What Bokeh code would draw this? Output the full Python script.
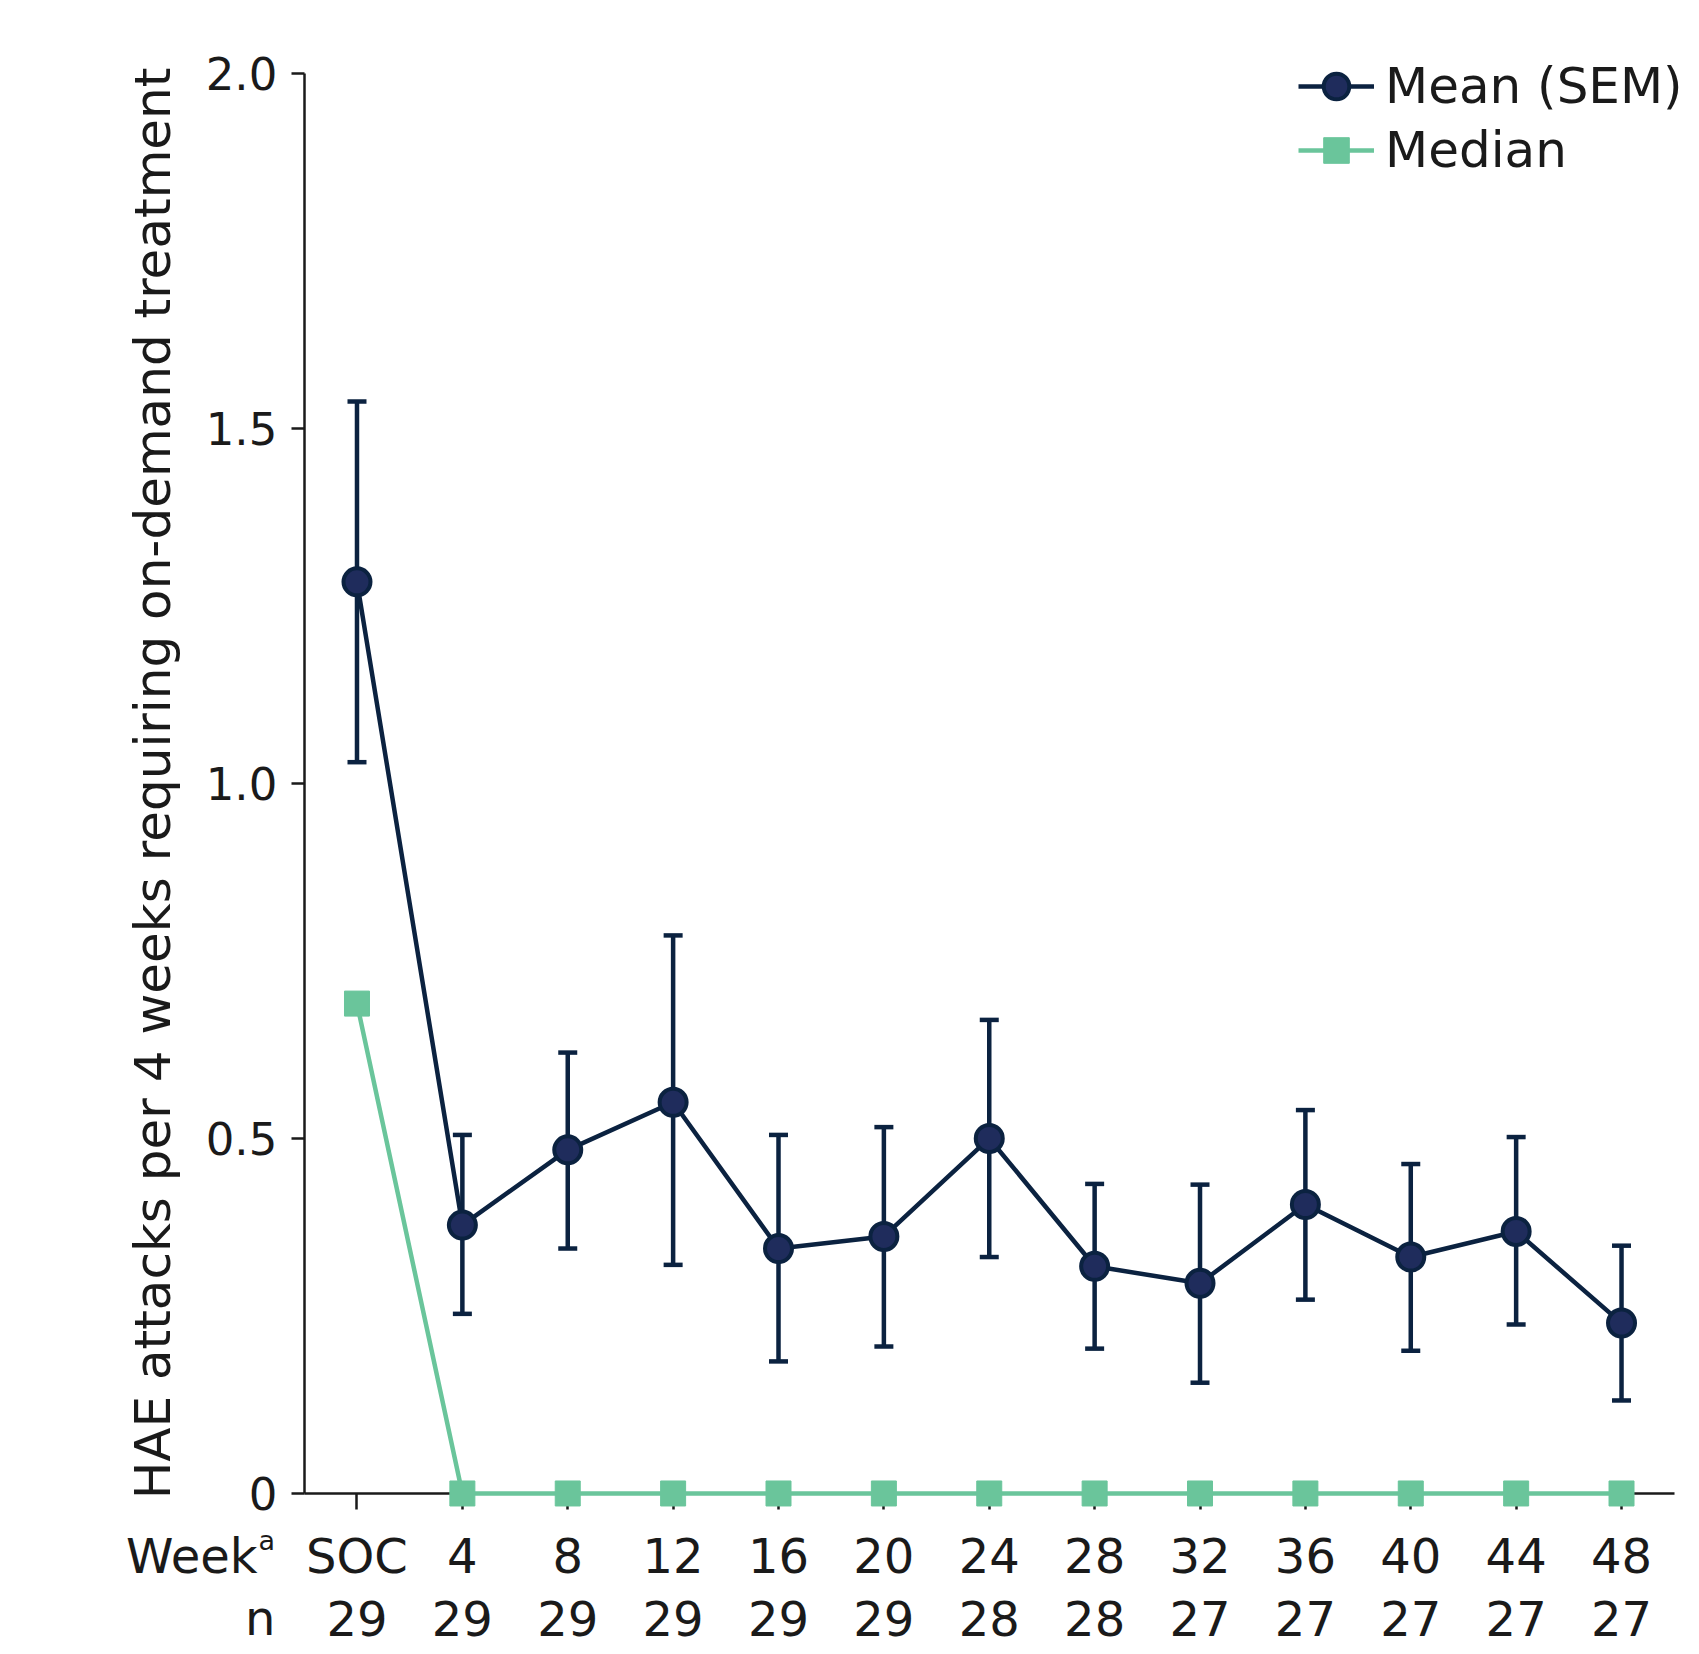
from bokeh.plotting import figure
from bokeh.models import (ColumnDataSource, Range1d, FixedTicker, LinearAxis, Whisker,
                          TeeHead, Legend, LegendItem, Label)
from bokeh.embed import file_html
from bokeh.resources import INLINE

# ---- data ----
weeks = ["SOC", "4", "8", "12", "16", "20", "24", "28", "32", "36", "40", "44", "48"]
n_values = ["29", "29", "29", "29", "29", "29", "28", "28", "27", "27", "27", "27", "27"]
mean_values = [1.284, 0.378, 0.484, 0.551, 0.345, 0.362, 0.500, 0.320, 0.296, 0.407, 0.333, 0.369, 0.240]
sem_upper = [1.538, 0.505, 0.621, 0.786, 0.505, 0.516, 0.667, 0.436, 0.435, 0.540, 0.464, 0.502, 0.349]
sem_lower = [1.030, 0.253, 0.345, 0.322, 0.186, 0.207, 0.333, 0.204, 0.156, 0.273, 0.201, 0.238, 0.131]
median_values = [0.69, 0, 0, 0, 0, 0, 0, 0, 0, 0, 0, 0, 0]
y_ticks = [0, 0.5, 1.0, 1.5, 2.0]
y_tick_labels = ["0", "0.5", "1.0", "1.5", "2.0"]
y_label = "HAE attacks per 4 weeks requiring on-demand treatment"

NAVY = "#0b2240"
NAVY_FILL = "#1f2c5c"
GREEN = "#6ac59b"
INK = "#1a1a1a"
FONT = "DejaVu Sans"

xs = list(range(len(weeks)))
src = ColumnDataSource(dict(x=xs, mean=mean_values, upper=sem_upper, lower=sem_lower,
                            median=median_values))

W, H = 1699, 1654
p = figure(width=W, height=H, output_backend="svg", toolbar_location=None,
           x_range=Range1d(-3.383, 12.740), y_range=Range1d(-0.2268, 2.1028),
           min_border=0, min_border_left=0, min_border_right=0,
           min_border_top=0, min_border_bottom=0)
p.outline_line_color = None
p.xgrid.visible = False
p.ygrid.visible = False
p.background_fill_color = "white"
p.border_fill_color = "white"

# error bars
wh = Whisker(source=src, base="x", upper="upper", lower="lower", dimension="height",
             line_color=NAVY, line_width=4.5, level="underlay",
             upper_head=TeeHead(size=19, line_color=NAVY, line_width=4.5),
             lower_head=TeeHead(size=19, line_color=NAVY, line_width=4.5))
p.add_layout(wh)

mean_line = p.line("x", "mean", source=src, line_color=NAVY, line_width=4.5)
mean_pts = p.scatter("x", "mean", source=src, marker="circle", size=27,
                     fill_color=NAVY_FILL, line_color=NAVY, line_width=4)
med_line = p.line("x", "median", source=src, line_color=GREEN, line_width=4.5, level="overlay")
med_pts = p.scatter("x", "median", source=src, marker="square", size=25,
                    fill_color=GREEN, line_color=GREEN, line_width=1, level="overlay")

# axes (fixed at the data origin)
xa = p.xaxis[0]
xa.fixed_location = 0
xa.bounds = (-0.5, len(weeks) - 0.5)
xa.ticker = FixedTicker(ticks=xs)
xa.major_label_overrides = {i: w for i, w in enumerate(weeks)}
xa.major_tick_out = 16
xa.major_tick_in = 0
xa.minor_tick_out = 0
xa.minor_tick_in = 0
xa.axis_line_width = 2.5
xa.axis_line_color = INK
xa.major_tick_line_width = 2.5
xa.major_tick_line_color = INK
xa.major_label_text_font = FONT
xa.major_label_text_font_size = "48px"
xa.major_label_text_color = INK
xa.major_label_standoff = 19

na = LinearAxis(ticker=FixedTicker(ticks=xs), fixed_location=0,
                bounds=(-0.5, len(weeks) - 0.5),
                major_label_overrides={i: v for i, v in enumerate(n_values)})
na.axis_line_color = None
na.major_tick_out = 0
na.major_tick_in = 0
na.minor_tick_out = 0
na.minor_tick_in = 0
na.major_tick_line_color = None
na.major_label_text_font = FONT
na.major_label_text_font_size = "48px"
na.major_label_text_color = INK
na.major_label_standoff = 108
p.add_layout(na, "below")

ya = p.yaxis[0]
ya.fixed_location = -0.5
ya.ticker = FixedTicker(ticks=y_ticks)
ya.major_label_overrides = {t: l for t, l in zip(y_ticks, y_tick_labels)}
ya.bounds = (0, 2.0)
ya.major_tick_out = 13
ya.major_tick_in = 0
ya.minor_tick_out = 0
ya.minor_tick_in = 0
ya.axis_line_width = 2.5
ya.axis_line_color = INK
ya.major_tick_line_width = 2.5
ya.major_tick_line_color = INK
ya.major_label_text_font = FONT
ya.major_label_text_font_size = "45px"
ya.major_label_text_color = INK
ya.major_label_standoff = 14
ya.axis_label = y_label
ya.axis_label_text_font = FONT
ya.axis_label_text_font_size = "50px"
ya.axis_label_text_font_style = "normal"
ya.axis_label_text_color = INK
ya.axis_label_standoff = 21

# row headers
p.add_layout(Label(x=-0.944, y=-0.088, text="Week", text_align="right", text_baseline="alphabetic",
                   text_font=FONT, text_font_size="48px", text_color=INK))
p.add_layout(Label(x=-0.935, y=-0.066, text="a", text_align="left", text_baseline="alphabetic",
                   text_font=FONT, text_font_size="27px", text_color=INK))
p.add_layout(Label(x=-0.773, y=-0.176, text="n", text_align="right", text_baseline="alphabetic",
                   text_font=FONT, text_font_size="48px", text_color=INK))

legend = Legend(items=[LegendItem(label="Mean (SEM)", renderers=[mean_line, mean_pts]),
                       LegendItem(label="Median", renderers=[med_line, med_pts])],
                location=(1298, 1472), orientation="vertical",
                label_text_font=FONT, label_text_font_size="50px", label_text_color=INK,
                glyph_width=76, glyph_height=64, label_height=56, spacing=0,
                padding=10, margin=0, label_standoff=11,
                border_line_color=None, background_fill_alpha=0)
p.add_layout(legend)

open("out.html", "w").write(file_html(p, INLINE))
